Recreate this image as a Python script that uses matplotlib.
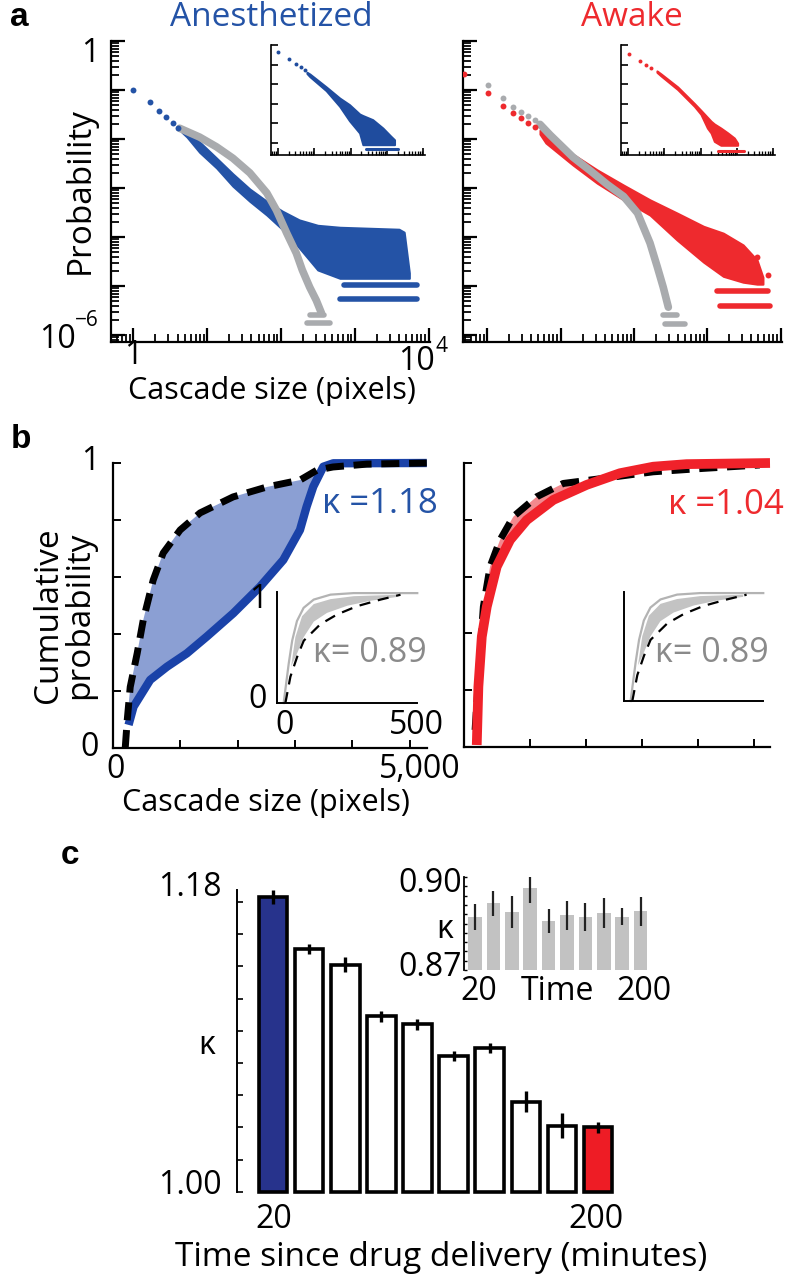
import numpy as np
import matplotlib
matplotlib.use("Agg")
import matplotlib.pyplot as plt
from matplotlib.ticker import LogLocator, NullFormatter, FixedLocator, NullLocator

plt.rcParams['font.family'] = ['Open Sans', 'DejaVu Sans']

BLUE = '#2453a6'
RED = '#ee2a2e'
GRAY = '#a9abae'
FS = 23

# ---------------- panel a : size distributions (log10 size, log10 prob) ----------------
anes_pts_logs = [0.0, 0.23, 0.35, 0.45, 0.54, 0.61]
anes_pts_logp = [-0.99, -1.24, -1.43, -1.56, -1.68, -1.77]
anes_logs = [0.66, 0.73, 0.9, 1.13, 1.35, 1.58, 1.81, 2.02, 2.25, 2.5, 2.8, 3.2, 3.6, 3.67, 3.74]
anes_hi = [-1.76, -1.80, -2.06, -2.39, -2.71, -3.02, -3.27, -3.47, -3.65, -3.76, -3.80, -3.82, -3.84, -3.90, -4.73]
anes_lo = [-1.86, -1.96, -2.27, -2.59, -2.96, -3.27, -3.55, -3.84, -4.22, -4.67, -4.84, -4.84, -4.84, -4.84, -4.84]
anes_row_logp = [-4.98, -5.27]
anes_row_from = [2.86, 2.80]
anes_row_to = [3.85, 3.85]

gray_anes_logs = [0.63, 0.9, 1.13, 1.35, 1.58, 1.81, 1.94, 2.08, 2.21, 2.29, 2.39, 2.48, 2.55]
gray_anes_logp = [-1.78, -1.96, -2.16, -2.39, -2.69, -3.10, -3.45, -3.92, -4.33, -4.67, -5.02, -5.29, -5.55]
gray_anes_row_logp = [-5.59, -5.76]
gray_anes_row_from = [2.40, 2.36]
gray_anes_row_to = [2.59, 2.66]

awake_pts_logs = [-0.31, 0.01, 0.22, 0.35, 0.46, 0.56, 0.65]
awake_pts_logp = [-0.67, -1.06, -1.33, -1.47, -1.57, -1.67, -1.76]
awake_logs = [0.72, 0.8, 1.17, 1.5, 1.86, 2.22, 2.59, 2.95, 3.22, 3.49, 3.68, 3.76]
awake_hi = [-1.82, -1.90, -2.31, -2.63, -2.94, -3.24, -3.51, -3.78, -3.92, -4.16, -4.47, -4.82]
awake_lo = [-1.90, -2.08, -2.53, -2.90, -3.24, -3.55, -4.06, -4.51, -4.80, -4.92, -4.96, -4.96]
awake_row_logp = [-5.10, -5.41]
awake_row_from = [3.14, 3.18]
awake_row_to = [3.83, 3.86]
awake_odd_logs = [3.68, 3.83]
awake_odd_logp = [-4.41, -4.78]

gray_awake_pts_logs = [0.01, 0.22, 0.35, 0.46, 0.56, 0.65]
gray_awake_pts_logp = [-0.90, -1.16, -1.35, -1.45, -1.53, -1.61]
gray_awake_logs = [0.72, 0.86, 1.17, 1.41, 1.64, 1.86, 2.05, 2.22, 2.32, 2.40, 2.47]
gray_awake_logp = [-1.70, -1.92, -2.37, -2.65, -2.93, -3.17, -3.51, -4.12, -4.61, -5.02, -5.43]
gray_awake_row_logp = [-5.59, -5.78]
gray_awake_row_from = [2.40, 2.43]
gray_awake_row_to = [2.59, 2.70]

# insets of panel a
anes_in_pts_logs = [0.0, 0.30, 0.49, 0.63, 0.74]
anes_in_pts_logp = [-0.36, -0.72, -0.97, -1.13, -1.28]
anes_in_logs = [0.8, 0.88, 1.33, 1.70, 1.97, 2.25, 2.34, 2.61, 2.89, 3.11, 3.21]
anes_in_hi = [-1.40, -1.49, -2.15, -2.72, -3.06, -3.54, -3.62, -3.83, -4.26, -4.68, -4.86]
anes_in_lo = [-1.46, -1.62, -2.34, -3.14, -3.88, -4.51, -5.11, -5.11, -5.11, -5.11, -5.11]
anes_in_row = [-5.32, 2.43, 3.32]

awake_in_pts_logs = [0.04, 0.34, 0.50, 0.63]
awake_in_pts_logp = [-0.45, -0.80, -1.01, -1.18]
awake_in_logs = [0.8, 0.91, 1.37, 1.83, 2.01, 2.19, 2.29, 2.38, 2.56, 2.75, 2.93, 3.02]
awake_in_hi = [-1.33, -1.48, -2.15, -3.00, -3.35, -3.71, -3.91, -4.05, -4.26, -4.51, -4.77, -5.03]
awake_in_lo = [-1.40, -1.58, -2.28, -3.14, -3.55, -4.26, -4.51, -4.94, -5.14, -5.14, -5.14, -5.14]
awake_in_row = [-5.45, 2.49, 3.20]

# ---------------- panel b : cumulative distributions ----------------
ref_anes_x = [43, 78, 130, 252, 357, 530, 704, 1000, 1348, 1922, 2513, 3087, 3383, 3661, 4252, 5296]
ref_anes_y = [0, 0.098, 0.214, 0.333, 0.449, 0.589, 0.684, 0.765, 0.825, 0.881, 0.916, 0.940, 0.975, 0.986, 0.996, 1.0]
anes_cdf_x = [101, 188, 478, 769, 1116, 1464, 1927, 2391, 2797, 3087, 3203, 3319, 3493, 3667, 5296]
anes_cdf_y = [0.081, 0.145, 0.239, 0.285, 0.332, 0.391, 0.473, 0.566, 0.660, 0.765, 0.847, 0.917, 0.987, 0.999, 1.0]

ref_awake_x = [18, 107, 166, 286, 464, 702, 1119, 1595, 2309, 3202, 4095, 5107]
ref_awake_y = [0.06, 0.33, 0.494, 0.635, 0.729, 0.811, 0.881, 0.928, 0.946, 0.969, 0.981, 0.993]
awake_cdf_x = [48, 77, 138, 227, 405, 643, 941, 1416, 2013, 2607, 3202, 3798, 5290]
awake_cdf_y = [0.007, 0.212, 0.388, 0.494, 0.635, 0.729, 0.799, 0.870, 0.923, 0.964, 0.987, 0.996, 1.0]

# inset (shuffled data, kappa 0.89)
in_outer_x = [1, 20, 33, 51, 76, 114, 177, 264, 503]
in_outer_y = [0, 0.358, 0.567, 0.746, 0.866, 0.941, 0.986, 1.0, 1.0]
in_ref_x = [7.5, 26.3, 51.4, 76.5, 139, 202, 277, 365, 440]
in_ref_y = [0, 0.239, 0.418, 0.567, 0.717, 0.806, 0.881, 0.941, 0.985]
in_top_x = [28.8, 45.1, 70.2, 114, 177, 264.7, 427]
in_top_y = [0.33, 0.60, 0.79, 0.90, 0.945, 0.972, 0.985]
in_bot_x = [28.8, 51.4, 76.5, 114, 164, 240, 327, 427]
in_bot_y = [0.33, 0.45, 0.60, 0.74, 0.82, 0.885, 0.93, 0.965]

# ---------------- panel c : kappa vs time ----------------
c_time = [20, 40, 60, 80, 100, 120, 140, 160, 180, 200]
c_kappa = [1.183, 1.151, 1.141, 1.109, 1.104, 1.084, 1.089, 1.056, 1.041, 1.040]
c_err = [0.0041, 0.0031, 0.0047, 0.0033, 0.0034, 0.0031, 0.0031, 0.0067, 0.0078, 0.0036]
c_in_kappa = [0.8870, 0.8915, 0.8887, 0.8964, 0.8858, 0.8876, 0.8870, 0.8883, 0.8872, 0.8889]
c_in_err = [0.0042, 0.0040, 0.0053, 0.0049, 0.0039, 0.0046, 0.0045, 0.0048, 0.0028, 0.0048]

W, H = 785, 1280
fig = plt.figure(figsize=(W / 100, H / 100), dpi=100)


def box(x0, y0, x1, y1):
    # axes from pixel corners (top-left origin)
    return fig.add_axes([x0 / W, 1 - y1 / H, (x1 - x0) / W, (y1 - y0) / H])


def txt(x, y, s, size=FS, color='black', **kw):
    fig.text(x / W, 1 - y / H, s, fontsize=size, color=color, ha=kw.pop('ha', 'center'),
             va=kw.pop('va', 'center'), **kw)


def p10(v):
    return 10 ** np.asarray(v, dtype=float)


def loglog_axes(ax, xlim, ylim, major_len, minor_len, lw):
    ax.set_xscale('log')
    ax.set_yscale('log')
    ax.set_xlim(*xlim)
    ax.set_ylim(*ylim)
    for side in ['top', 'right']:
        ax.spines[side].set_visible(False)
    for side in ['left', 'bottom']:
        ax.spines[side].set_linewidth(lw)
    ax.xaxis.set_major_locator(LogLocator(base=10, numticks=20))
    ax.yaxis.set_major_locator(LogLocator(base=10, numticks=20))
    ax.xaxis.set_minor_locator(LogLocator(base=10, subs=np.arange(2, 10), numticks=20))
    ax.yaxis.set_minor_locator(LogLocator(base=10, subs=np.arange(2, 10), numticks=20))
    ax.xaxis.set_major_formatter(NullFormatter())
    ax.yaxis.set_major_formatter(NullFormatter())
    ax.xaxis.set_minor_formatter(NullFormatter())
    ax.yaxis.set_minor_formatter(NullFormatter())
    ax.tick_params(which='major', direction='in', length=major_len, width=lw)
    ax.tick_params(which='minor', direction='in', length=minor_len, width=lw * 0.8)
    ax.patch.set_alpha(0)


def cloud(ax, pts_x, pts_y, lx, hi, lo, color, ms=14):
    ax.fill_between(p10(lx), p10(lo), p10(hi), color=color, lw=1.5, edgecolor=color)
    ax.scatter(p10(pts_x), p10(pts_y), s=ms, color=color, lw=0, zorder=3)


def rows(ax, ps, a, b, color, lw):
    for p, s0, s1 in zip(ps, a, b):
        ax.plot([10 ** s0, 10 ** s1], [10 ** p, 10 ** p], color=color, lw=lw,
                solid_capstyle='round')


# ================= panel a =================
XL = (10 ** -0.30, 10 ** 4.02)
YL = (10 ** -6.14, 1.0)

axA1 = box(111, 41, 430, 342)
loglog_axes(axA1, XL, YL, 10, 5.5, 1.6)
axA1.plot(p10(gray_anes_logs), p10(gray_anes_logp), color=GRAY, lw=5.5,
          solid_capstyle='round', solid_joinstyle='round')
rows(axA1, gray_anes_row_logp, gray_anes_row_from, gray_anes_row_to, GRAY, 4)
cloud(axA1, anes_pts_logs, anes_pts_logp, anes_logs, anes_hi, anes_lo, BLUE, 18)
rows(axA1, anes_row_logp, anes_row_from, anes_row_to, BLUE, 4)

axA2 = box(463, 41, 782, 342)
loglog_axes(axA2, (10 ** -0.33, 10 ** 4.02), YL, 10, 5.5, 1.6)
axA2.plot(p10(gray_awake_logs), p10(gray_awake_logp), color=GRAY, lw=5.5,
          solid_capstyle='round', solid_joinstyle='round')
axA2.scatter(p10(gray_awake_pts_logs), p10(gray_awake_pts_logp), s=18, color=GRAY, lw=0)
rows(axA2, gray_awake_row_logp, gray_awake_row_from, gray_awake_row_to, GRAY, 4)
cloud(axA2, awake_pts_logs, awake_pts_logp, awake_logs, awake_hi, awake_lo, RED, 18)
axA2.scatter(p10(awake_odd_logs), p10(awake_odd_logp), s=18, color=RED, lw=0)
rows(axA2, awake_row_logp, awake_row_from, awake_row_to, RED, 4)

XLi = (10 ** -0.19, 10 ** 4.05)
YLi = (10 ** -5.64, 1.0)
axI1 = box(271, 45, 425, 155)
loglog_axes(axI1, XLi, YLi, 5, 3, 1.2)
axI1.yaxis.set_minor_locator(NullLocator())
cloud(axI1, anes_in_pts_logs, anes_in_pts_logp, anes_in_logs, anes_in_hi, anes_in_lo, '#1f4c9e', 8)
rows(axI1, [anes_in_row[0]], [anes_in_row[1]], [anes_in_row[2]], '#1f4c9e', 2.2)

axI2 = box(621, 45, 775, 155)
loglog_axes(axI2, XLi, YLi, 5, 3, 1.2)
axI2.yaxis.set_minor_locator(NullLocator())
cloud(axI2, awake_in_pts_logs, awake_in_pts_logp, awake_in_logs, awake_in_hi, awake_in_lo, RED, 8)
rows(axI2, [awake_in_row[0]], [awake_in_row[1]], [awake_in_row[2]], RED, 2.2)

txt(19, 17, 'a', 24, family='Liberation Sans', weight='bold')
txt(271, 17, 'Anesthetized', 24, BLUE)
txt(632, 17, 'Awake', 24, RED)
txt(80, 190, 'Probability', 24, rotation=90)
txt(90, 53, '1')
txt(57, 340, '10')
txt(87, 321, '\u22126', 15)
txt(133, 356, '1')
txt(416, 361, '10')
txt(442, 346, '4', 15)
txt(272, 391, 'Cascade size (pixels)', 22)

# ================= panel b =================
def cdf_axes(ax, xlim):
    ax.set_xlim(*xlim)
    ax.set_ylim(0, 1)
    for side in ['top', 'right']:
        ax.spines[side].set_visible(False)
    for side in ['left', 'bottom']:
        ax.spines[side].set_linewidth(1.6)
    ax.xaxis.set_major_locator(FixedLocator([1000, 2000, 3000, 4000, 5000]))
    ax.yaxis.set_major_locator(FixedLocator([0, 0.2, 0.4, 0.6, 0.8, 1.0]))
    ax.set_xticklabels([])
    ax.set_yticklabels([])
    ax.tick_params(direction='in', length=6, width=1.4)
    ax.patch.set_alpha(0)


axB1 = box(113, 463, 427, 748)
cdf_axes(axB1, (-170, 5300))
fill_x = ref_anes_x[1:13] + anes_cdf_x[11:0:-1]
fill_y = ref_anes_y[1:13] + anes_cdf_y[11:0:-1]
axB1.fill(fill_x, fill_y, color='#8b9fd3', lw=0)
axB1.plot(anes_cdf_x, anes_cdf_y, color='#1a42a8', lw=6, solid_capstyle='butt', clip_on=False)
axB1.plot(ref_anes_x, ref_anes_y, color='black', lw=5, dashes=(2.6, 1.4), clip_on=False)

axB2 = box(464, 463, 770, 747)
cdf_axes(axB2, (-180, 5290))
fill_x = ref_awake_x[2:8] + awake_cdf_x[8:2:-1]
fill_y = ref_awake_y[2:8] + awake_cdf_y[8:2:-1]
axB2.fill(fill_x, fill_y, color='#f2898e', lw=0)
axB2.plot(ref_awake_x, ref_awake_y, color='black', lw=5, dashes=(2.6, 1.4), clip_on=False)
axB2.plot(awake_cdf_x, awake_cdf_y, color='#f0222a', lw=7, solid_capstyle='butt', clip_on=False)


def cdf_inset(ax):
    ax.set_xlim(-24, 502)
    ax.set_ylim(0, 1.01)
    for side in ['top', 'right']:
        ax.spines[side].set_visible(False)
    for side in ['left', 'bottom']:
        ax.spines[side].set_linewidth(1.4)
    ax.set_xticks([])
    ax.set_yticks([])
    ax.fill(in_top_x + in_bot_x[::-1], in_top_y + in_bot_y[::-1], color='#c3c3c3', lw=0)
    ax.plot(in_outer_x, in_outer_y, color='#b3b3b3', lw=1.6, clip_on=False)
    ax.plot(in_ref_x, in_ref_y, color='black', lw=1.6, dashes=(5, 3.5), clip_on=False)
    ax.patch.set_alpha(0)


axBI1 = box(277, 592, 417, 703)
cdf_inset(axBI1)
axBI2 = box(624, 592, 763, 701)
cdf_inset(axBI2)

txt(21, 439, 'b', 24, family='Liberation Sans', weight='bold')
txt(64, 615, 'Cumulative\nprobability', 24, rotation=90, linespacing=0.95)
txt(90, 462, '1')
txt(90, 747, '0')
txt(116, 770, '0')
txt(420, 770, '5,000')
txt(266, 803, 'Cascade size (pixels)', 22)
txt(380, 504, '\u03ba =1.18', 25, BLUE)
txt(726, 505, '\u03ba =1.04', 25, RED)
txt(370, 653, '\u03ba= 0.89', 24.5, '#8a8a8a')
txt(712, 653, '\u03ba= 0.89', 24.5, '#8a8a8a')
txt(258, 600, '1')
txt(258, 700, '0')
txt(285, 725, '0')
txt(416, 725, '500')

# ================= panel c =================
axC = box(237.3, 890, 620, 1191.7)
axC.set_xlim(0.2, 212.2)
axC.set_ylim(1.0, 1.1874)
colors = ['#27338c'] + ['white'] * 8 + ['#ee1c25']
axC.bar(c_time, np.array(c_kappa) - 1.0, bottom=1.0, width=15.8, color=colors,
        edgecolor='black', linewidth=2.6, clip_on=False, zorder=2)
axC.errorbar(c_time, c_kappa, yerr=c_err, fmt='none', ecolor='black', elinewidth=2.4,
             capsize=0, zorder=3)
for side in ['top', 'right', 'bottom']:
    axC.spines[side].set_visible(False)
axC.spines['left'].set_linewidth(1.4)
axC.set_xticks([])
axC.yaxis.set_major_locator(FixedLocator([1.00 + 0.02 * i for i in range(10)]))
axC.set_yticklabels([])
axC.tick_params(axis='y', direction='in', length=4, width=1.2)
axC.patch.set_alpha(0)

axCI = box(464, 877, 650, 970)
axCI.set_xlim(8.0, 210.2)
axCI.set_ylim(0.87, 0.90)
axCI.bar(c_time, np.array(c_in_kappa) - 0.87, bottom=0.87, width=14.9, color='#c2c2c2', lw=0)
axCI.errorbar(c_time, c_in_kappa, yerr=c_in_err, fmt='none', ecolor='#222222', elinewidth=1.6,
              capsize=0)
for side in ['top', 'right', 'bottom']:
    axCI.spines[side].set_visible(False)
axCI.spines['left'].set_linewidth(1.3)
axCI.set_xticks([])
axCI.yaxis.set_major_locator(FixedLocator([0.87 + 0.003 * i for i in range(11)]))
axCI.set_yticklabels([])
axCI.tick_params(axis='y', direction='in', length=2, width=1)
axCI.patch.set_alpha(0)

txt(70, 856, 'c', 24, family='Liberation Sans', weight='bold')
txt(190, 887, '1.18')
txt(190, 1185, '1.00')
txt(207, 1045, '\u03ba')
txt(274, 1220, '20')
txt(596, 1220, '200')
txt(441, 1257, 'Time since drug delivery (minutes)', 24)
txt(430, 883, '0.90')
txt(430, 968, '0.87')
txt(445, 930, '\u03ba')
txt(479, 992, '20')
txt(557, 992, 'Time')
txt(644, 992, '200')

fig.savefig('out.png', dpi=100)
